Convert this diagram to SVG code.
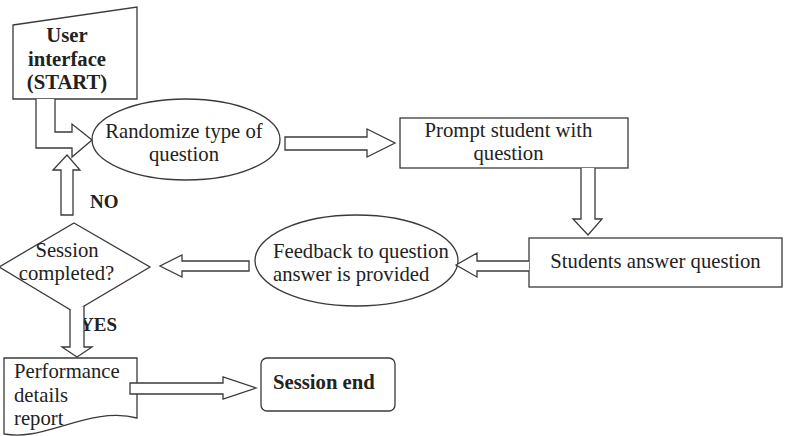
<svg xmlns="http://www.w3.org/2000/svg" width="787" height="436" viewBox="0 0 787 436">
<style>
.shape{fill:#fff;stroke:#3a3a3a;stroke-width:1.3}
.arrow{fill:#fff;stroke:#3a3a3a;stroke-width:1.3;stroke-linejoin:miter}
.t{font-family:"Liberation Serif","Times New Roman",serif;font-size:20.7px;fill:#222}
.b{font-weight:bold}
.c{text-anchor:middle}
</style>
<rect width="787" height="436" fill="#fff"/>
<g id="user-interface">
<polygon class="shape" points="13,25 137,7 137,99 13,99"/>
<text class="t b c" x="67" y="42">User</text>
<text class="t b c" x="67" y="66">interface</text>
<text class="t b c" x="67" y="89">(START)</text>
</g>
<g id="randomize">
<ellipse class="shape" cx="186" cy="139.5" rx="94" ry="40.5"/>
<text class="t c" x="184" y="138">Randomize type of</text>
<text class="t c" x="184" y="161">question</text>
</g>
<g id="prompt">
<rect class="shape" x="400" y="118" width="228" height="50"/>
<text class="t c" x="508.5" y="137">Prompt student with</text>
<text class="t c" x="508.5" y="160">question</text>
</g>
<g id="students-answer">
<rect class="shape" x="529" y="238" width="253" height="49"/>
<text class="t c" x="655.5" y="268">Students answer question</text>
</g>
<g id="feedback">
<ellipse class="shape" cx="356.5" cy="260.5" rx="101.5" ry="45.5"/>
<text class="t" x="273" y="258">Feedback to question</text>
<text class="t" x="273" y="281">answer is provided</text>
</g>
<g id="session-completed">
<polygon class="shape" points="74,223 150,267 74,312 -1,267"/>
<text class="t c" x="67" y="257">Session</text>
<text class="t c" x="66.5" y="280">completed?</text>
</g>
<g id="performance-report">
<path class="shape" d="M4,358 H137 V418 C100,408 60,430 30,434 C18,436 10,435 4,434 Z"/>
<text class="t" x="14" y="378">Performance</text>
<text class="t" x="14" y="402">details</text>
<text class="t" x="14" y="425">report</text>
</g>
<g id="session-end">
<rect class="shape" x="261" y="358" width="134" height="53" rx="6" ry="6"/>
<text class="t b" x="273" y="389">Session end</text>
</g>
<g id="connectors">
<path class="arrow" d="M36,99 V148 H72 V157 L92,140 L72,124 V132 H55 V99"/>
<path class="arrow" d="M61,215 V170 H53 L67,155 L80,170 H73 V215 Z"/>
<text class="t b" x="90" y="208" style="font-size:19px">NO</text>
<path class="arrow" d="M285,137 H367 V129 L395,143 L367,157 V150 H285 Z"/>
<path class="arrow" d="M581,168 V219 H573 L588,235 L602,219 H595 V168"/>
<path class="arrow" d="M529,261 H477 V253 L456,265 L477,277 V271 H529"/>
<path class="arrow" d="M249,261 H182 V255 L160,266 L182,277 V271 H249 Z"/>
<text class="t b" x="80" y="331" style="font-size:19px">YES</text>
<path class="arrow" d="M70,310 V347 H62 L77,357 L92,347 H84 V306"/>
<path class="arrow" d="M130,383 H223 V377 L256,388 L223,399 V394 H130 Z"/>
</g>
</svg>
